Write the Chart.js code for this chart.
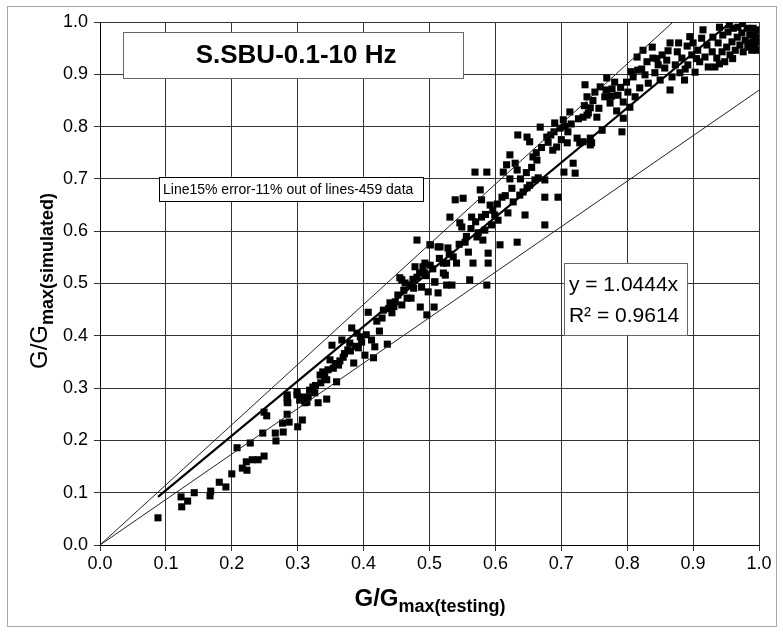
<!DOCTYPE html>
<html>
<head>
<meta charset="utf-8">
<script src="https://cdn.jsdelivr.net/npm/chart.js@4/dist/chart.umd.min.js"></script>
<style>
  html, body { margin: 0; padding: 0; background: #fff; }
  #wrap { width: 783px; height: 633px; }
</style>
</head>
<body>
<div id="wrap"><canvas id="chart" width="783" height="633"></canvas></div>
<script>
// G/Gmax (testing) vs G/Gmax (simulated)
const testX = [
  // lower end
  0.088, 0.123, 0.124, 0.133, 0.143, 0.167, 0.168, 0.181, 0.191, 0.200,
  0.208, 0.216, 0.223, 0.222, 0.231, 0.240, 0.249, 0.228, 0.247, 0.249,
  0.253, 0.266, 0.267, 0.278, 0.277, 0.284, 0.287, 0.284, 0.284, 0.299,
  0.300, 0.307, 0.306, 0.314,
  // 0.28 - 0.53
  0.284, 0.285, 0.299, 0.303, 0.311, 0.316, 0.323, 0.326, 0.331, 0.334,
  0.338, 0.344, 0.344, 0.349, 0.352, 0.354, 0.359, 0.362, 0.367, 0.369,
  0.376, 0.379, 0.382, 0.385, 0.390, 0.392, 0.397, 0.402, 0.407, 0.412,
  0.415, 0.417, 0.424, 0.430, 0.436, 0.440, 0.443, 0.448, 0.455, 0.458,
  0.463, 0.466, 0.472, 0.476, 0.478, 0.481, 0.486, 0.488, 0.493, 0.496,
  0.498, 0.501, 0.507, 0.508, 0.513, 0.516, 0.521, 0.524, 0.526, 0.481,
  0.490, 0.458,
  // 0.49 - 0.75
  0.493, 0.501, 0.501, 0.513, 0.508, 0.521, 0.526, 0.528, 0.531, 0.534,
  0.536, 0.539, 0.541, 0.546, 0.549, 0.551, 0.554, 0.559, 0.561, 0.564,
  0.566, 0.569, 0.572, 0.574, 0.577, 0.579, 0.579, 0.581, 0.584, 0.587,
  0.587, 0.589, 0.589, 0.592, 0.594, 0.599, 0.604, 0.607, 0.610, 0.612,
  0.617, 0.619, 0.622, 0.622, 0.627, 0.630, 0.633, 0.633, 0.634, 0.637,
  0.642, 0.645, 0.648, 0.648, 0.652, 0.652, 0.657, 0.660, 0.663, 0.665,
  0.668, 0.675, 0.675, 0.675, 0.678, 0.684, 0.687, 0.690, 0.693, 0.695,
  0.698, 0.703, 0.704, 0.709, 0.710, 0.713, 0.718, 0.721, 0.724, 0.728,
  0.733, 0.741, 0.744,
  // upper end
  0.736, 0.739, 0.739, 0.744, 0.746, 0.751, 0.754, 0.759, 0.762, 0.766,
  0.769, 0.774, 0.777, 0.781, 0.784, 0.786, 0.792, 0.794, 0.799, 0.801,
  0.804, 0.809, 0.812, 0.815, 0.816, 0.819, 0.824, 0.827, 0.830, 0.832,
  0.838, 0.839, 0.842, 0.847, 0.850, 0.853, 0.857, 0.860, 0.865, 0.865,
  0.868, 0.873, 0.876, 0.880, 0.883, 0.887, 0.891, 0.892, 0.898, 0.900,
  0.903, 0.907, 0.910, 0.913, 0.918, 0.921, 0.923, 0.929, 0.930, 0.933,
  0.936, 0.938, 0.944, 0.945, 0.948, 0.951, 0.953, 0.956, 0.959, 0.961,
  0.964, 0.967, 0.968, 0.971, 0.974, 0.976, 0.979, 0.982, 0.983, 0.986,
  0.989, 0.991, 0.991, 0.994, 0.994, 0.997, 0.997, 0.997, 0.794, 0.733,
  0.744,
  // dense band along the fit
  0.318, 0.327, 0.335, 0.341, 0.346, 0.357, 0.364, 0.371, 0.380, 0.388,
  0.395, 0.404, 0.420, 0.428, 0.438, 0.446, 0.452, 0.461, 0.470, 0.475,
  0.485, 0.495, 0.505, 0.515, 0.530, 0.545, 0.556, 0.563, 0.570, 0.585,
  0.596, 0.603, 0.615, 0.625, 0.638, 0.647, 0.655, 0.662, 0.670, 0.680,
  0.689, 0.700, 0.706, 0.715, 0.726, 0.735, 0.748, 0.757, 0.768, 0.776,
  0.790, 0.806, 0.822, 0.845, 0.862, 0.878, 0.895, 0.915, 0.940, 0.955,
  0.975, 0.985, 0.996, 0.990, 0.960, 0.940, 0.905, 0.888
];
const simY = [
  // lower end
  0.052, 0.092, 0.073, 0.084, 0.100, 0.094, 0.103, 0.120, 0.111, 0.136,
  0.186, 0.147, 0.143, 0.159, 0.163, 0.163, 0.170, 0.195, 0.214, 0.254,
  0.247, 0.214, 0.199, 0.216, 0.233, 0.250, 0.235, 0.273, 0.281, 0.293,
  0.226, 0.239, 0.283, 0.273,
  // 0.28 - 0.53
  0.287, 0.272, 0.287, 0.277, 0.272, 0.283, 0.302, 0.291, 0.272, 0.325,
  0.331, 0.316, 0.279, 0.354, 0.382, 0.338, 0.312, 0.344, 0.392, 0.359,
  0.373, 0.386, 0.415, 0.348, 0.405, 0.377, 0.388, 0.363, 0.445, 0.392,
  0.358, 0.379, 0.409, 0.449, 0.384, 0.463, 0.444, 0.465, 0.511, 0.459,
  0.501, 0.472, 0.472, 0.491, 0.532, 0.512, 0.455, 0.493, 0.539, 0.440,
  0.484, 0.574, 0.455, 0.503, 0.482, 0.570, 0.539, 0.516, 0.497, 0.583,
  0.532, 0.507,
  // 0.49 - 0.75
  0.520, 0.535, 0.574, 0.570, 0.503, 0.520, 0.539, 0.568, 0.627, 0.497,
  0.551, 0.660, 0.539, 0.616, 0.608, 0.663, 0.579, 0.560, 0.507, 0.627,
  0.539, 0.713, 0.589, 0.597, 0.679, 0.660, 0.627, 0.583, 0.602, 0.713,
  0.497, 0.558, 0.539, 0.650, 0.612, 0.631, 0.621, 0.574, 0.665, 0.713,
  0.727, 0.635, 0.700, 0.746, 0.656, 0.730, 0.579, 0.717, 0.784, 0.669,
  0.675, 0.631, 0.780, 0.683, 0.771, 0.688, 0.742, 0.698, 0.736, 0.702,
  0.799, 0.612, 0.665, 0.698, 0.780, 0.784, 0.755, 0.807, 0.761, 0.665,
  0.797, 0.813, 0.713, 0.769, 0.790, 0.828, 0.730, 0.711, 0.778, 0.769,
  0.818, 0.826, 0.778,
  // upper end
  0.880, 0.857, 0.822, 0.836, 0.769, 0.866, 0.818, 0.876, 0.793, 0.857,
  0.893, 0.845, 0.872, 0.885, 0.830, 0.860, 0.790, 0.847, 0.885, 0.866,
  0.837, 0.895, 0.857, 0.933, 0.908, 0.874, 0.946, 0.899, 0.924, 0.883,
  0.952, 0.931, 0.903, 0.918, 0.889, 0.937, 0.912, 0.927, 0.960, 0.870,
  0.895, 0.918, 0.943, 0.903, 0.931, 0.889, 0.954, 0.918, 0.937, 0.960,
  0.904, 0.946, 0.924, 0.969, 0.933, 0.956, 0.914, 0.943, 0.971, 0.914,
  0.931, 0.960, 0.943, 0.975, 0.924, 0.952, 0.981, 0.937, 0.962, 0.988,
  0.946, 0.971, 0.990, 0.956, 0.979, 0.943, 0.965, 0.988, 0.952, 0.975,
  0.946, 0.962, 0.988, 0.952, 0.975, 0.946, 0.962, 0.985, 0.816, 0.771,
  0.765,
  // dense band along the fit
  0.296, 0.305, 0.310, 0.322, 0.335, 0.347, 0.352, 0.366, 0.371, 0.380,
  0.398, 0.402, 0.428, 0.434, 0.452, 0.456, 0.478, 0.487, 0.497, 0.508,
  0.520, 0.515, 0.528, 0.548, 0.556, 0.575, 0.590, 0.605, 0.618, 0.632,
  0.640, 0.652, 0.668, 0.682, 0.700, 0.712, 0.722, 0.750, 0.760, 0.770,
  0.790, 0.775, 0.800, 0.805, 0.815, 0.840, 0.850, 0.835, 0.870, 0.858,
  0.875, 0.905, 0.910, 0.930, 0.945, 0.960, 0.972, 0.985, 0.990, 0.995,
  0.997, 0.960, 0.970, 0.955, 0.930, 0.920, 0.930, 0.910
];

// trend line and +/-15% lines
const fitSlope = 1.0444;
const fitR2 = 0.9614;
const errorBand = 0.15;
const fitLineX = [0.088, 1 / fitSlope];
const upperLineX = [0, 1 / (1 + errorBand)];
const lowerLineX = [0, 1];

const axisMin = 0, axisMax = 1, axisStep = 0.1;

const chartTitle = 'S.SBU-0.1-10 Hz';
const noteText = 'Line15% error-11% out of lines-459 data';

const FONT = '"Liberation Sans", Arial, sans-serif';

const scatterPts = testX.map((x, i) => ({ x: x, y: simY[i] }));
const lineOf = (xs, f) => xs.map(x => ({ x: x, y: f(x) }));

// boxes in data coordinates [x0, y0, x1, y1]
const titleBox = [0.035, 0.981, 0.551, 0.893];
const noteBox = [0.0895, 0.704, 0.490, 0.658];
const eqBox = [0.704, 0.539, 0.891, 0.402];

function drawBox(ctx, xs, ys, b, stroke) {
  const x0 = xs.getPixelForValue(b[0]), y0 = ys.getPixelForValue(b[1]);
  const x1 = xs.getPixelForValue(b[2]), y1 = ys.getPixelForValue(b[3]);
  ctx.fillStyle = '#fff';
  ctx.fillRect(x0, y0, x1 - x0, y1 - y0);
  ctx.strokeStyle = stroke;
  ctx.lineWidth = 1;
  ctx.strokeRect(Math.round(x0) + 0.5, Math.round(y0) + 0.5, Math.round(x1 - x0), Math.round(y1 - y0));
  ctx.fillStyle = '#000';
  return { x0, y0, x1, y1 };
}

const decor = {
  id: 'decor',
  beforeDraw(chart) {
    const ctx = chart.ctx;
    ctx.save();
    ctx.fillStyle = '#fff';
    ctx.fillRect(0, 0, chart.width, chart.height);
    ctx.strokeStyle = '#a6a6a6';
    ctx.lineWidth = 1;
    ctx.strokeRect(7.5, 6.5, 769, 620);
    ctx.restore();
  },
  afterDatasetsDraw(chart) {
    const ctx = chart.ctx;
    const xs = chart.scales.x, ys = chart.scales.y;
    ctx.save();
    // title box
    let r = drawBox(ctx, xs, ys, titleBox, '#666');
    ctx.font = 'bold 26px ' + FONT;
    ctx.textAlign = 'center';
    ctx.textBaseline = 'middle';
    ctx.fillText(chartTitle, (r.x0 + r.x1) / 2 + 3, (r.y0 + r.y1) / 2 + 1);
    // note box
    r = drawBox(ctx, xs, ys, noteBox, '#000');
    ctx.font = '14px ' + FONT;
    ctx.textAlign = 'left';
    ctx.fillText(noteText, r.x0 + 4, (r.y0 + r.y1) / 2 + 1);
    // equation box
    r = drawBox(ctx, xs, ys, eqBox, '#666');
    ctx.font = '21px ' + FONT;
    ctx.textBaseline = 'alphabetic';
    ctx.fillText('y = ' + fitSlope.toFixed(4) + 'x', r.x0 + 5, r.y0 + 28);
    ctx.fillText('R² = ' + fitR2.toFixed(4), r.x0 + 5, r.y0 + 59);
    ctx.restore();

    // axis titles with subscripts
    ctx.save();
    ctx.fillStyle = '#000';
    ctx.textBaseline = 'alphabetic';
    // x title
    ctx.font = 'bold 24px ' + FONT;
    const xm = ctx.measureText('G/G').width;
    ctx.font = 'bold 18px ' + FONT;
    const xsub = ctx.measureText('max(testing)').width;
    let sx = 430 - (xm + xsub) / 2;
    ctx.textAlign = 'left';
    ctx.font = 'bold 24px ' + FONT;
    ctx.fillText('G/G', sx, 606);
    ctx.font = 'bold 18px ' + FONT;
    ctx.fillText('max(testing)', sx + xm, 612);
    // y title
    ctx.translate(47, 281);
    ctx.rotate(-Math.PI / 2);
    ctx.font = '24px ' + FONT;
    const ym = ctx.measureText('G/G').width;
    ctx.font = 'bold 18px ' + FONT;
    const ysub = ctx.measureText('max(simulated)').width;
    sx = -(ym + ysub) / 2;
    ctx.font = '24px ' + FONT;
    ctx.fillText('G/G', sx, 0);
    ctx.font = 'bold 18px ' + FONT;
    ctx.fillText('max(simulated)', sx + ym, 6);
    ctx.restore();
  }
};

const tickOpts = {
  color: '#000',
  font: { family: FONT, size: 18 },
  callback: v => Number(v).toFixed(1)
};

new Chart(document.getElementById('chart'), {
  type: 'scatter',
  data: {
    datasets: [
      {
        data: scatterPts,
        pointStyle: 'rect',
        radius: 5,
        backgroundColor: '#000',
        borderColor: '#000',
        borderWidth: 0,
        order: 2
      },
      {
        data: lineOf(fitLineX, x => fitSlope * x),
        showLine: true, borderColor: '#000', borderWidth: 2.2, pointRadius: 0, order: 1
      },
      {
        data: lineOf(upperLineX, x => (1 + errorBand) * x),
        showLine: true, borderColor: '#222', borderWidth: 1, pointRadius: 0, order: 1
      },
      {
        data: lineOf(lowerLineX, x => x / (1 + errorBand)),
        showLine: true, borderColor: '#222', borderWidth: 1, pointRadius: 0, order: 1
      }
    ]
  },
  options: {
    responsive: false,
    animation: false,
    events: [],
    layout: { padding: { left: 0, right: 24, top: 22, bottom: 0 } },
    plugins: { legend: { display: false }, tooltip: { enabled: false } },
    scales: {
      x: {
        type: 'linear', min: axisMin, max: axisMax,
        ticks: Object.assign({ stepSize: axisStep, padding: 2 }, tickOpts),
        grid: { color: '#333', lineWidth: 1, tickLength: 6, tickColor: '#333' },
        border: { color: '#000', width: 1 },
        afterFit: s => { s.height = 88; }
      },
      y: {
        type: 'linear', min: axisMin, max: axisMax,
        ticks: Object.assign({ stepSize: axisStep, padding: 6 }, tickOpts),
        grid: { color: '#333', lineWidth: 1, tickLength: 6, tickColor: '#333' },
        border: { color: '#000', width: 1 },
        afterFit: s => { s.width = 100; }
      }
    }
  },
  plugins: [decor]
});
</script>
</body>
</html>
